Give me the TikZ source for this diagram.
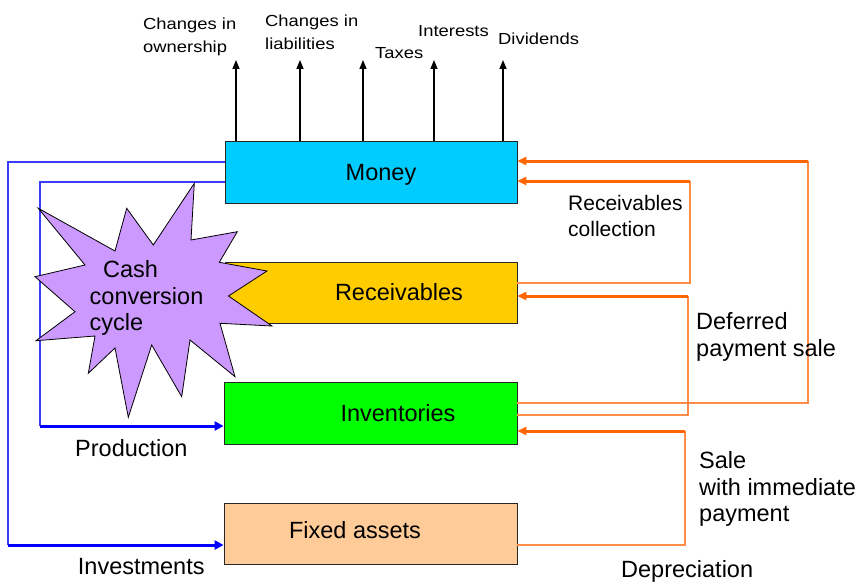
\documentclass[tikz,border=0pt]{standalone}
\usepackage{fontspec}
\setmainfont{Liberation Sans}
\newfontfamily\widesans[FakeStretch=1.15]{Liberation Sans}
\usetikzlibrary{arrows.meta}
\definecolor{moneyc}{RGB}{0,204,255}
\definecolor{recc}{RGB}{255,204,0}
\definecolor{invc}{RGB}{0,255,0}
\definecolor{fixc}{RGB}{255,204,153}
\definecolor{starc}{RGB}{204,153,255}
\definecolor{bluec}{RGB}{0,0,255}
\definecolor{bluethin}{RGB}{60,60,255}
\definecolor{orc}{RGB}{255,102,0}
\definecolor{orthin}{RGB}{255,140,70}
\begin{document}
\begin{tikzpicture}[x=1pt,y=-1pt,
  box/.style={draw=black!85,line width=0.8pt,minimum width=292pt,inner sep=0pt,
     text height=16.8pt,text depth=0pt,font=\fontsize{23.5pt}{26pt}\selectfont},
  lbl/.style={anchor=base west,inner sep=0pt,font=\fontsize{23.5pt}{26pt}\selectfont},
  toplbl/.style={anchor=base west,inner sep=0pt,font=\widesans\fontsize{16pt}{20pt}\selectfont},
  uparrow/.style={line width=1.5pt,-{Triangle[length=9pt,width=7pt]}},
  bthin/.style={draw=bluethin,line width=1.3pt},
  bthick/.style={draw=bluec,line width=3pt,-{Triangle[length=9pt,width=9pt]}},
  othin/.style={draw=orthin,line width=1.2pt},
  othick/.style={draw=orc,line width=3pt,-{Triangle[length=9pt,width=8pt]}}]
\useasboundingbox (0,0) rectangle (858,583);

% boxes
\node[box,fill=moneyc,minimum height=62pt] (money) at (371,172) {\hspace*{20pt}Money};
\node[box,fill=recc,minimum height=61pt] (rec) at (371,292.5) {\hspace*{56pt}Receivables};
\node[box,fill=invc,minimum height=62pt,minimum width=293pt] (inv) at (370.5,413) {\hspace*{55pt}Inventories};
\node[box,fill=fixc,minimum height=61pt,minimum width=293pt] (fix) at (370.5,533.5) {\raisebox{3pt}{Fixed assets}\hspace*{31pt}};

% outgoing arrows from money
\coordinate (t1) at (236,60);
\coordinate (t2) at (300,60);
\coordinate (t3) at (363,60);
\coordinate (t4) at (434,60);
\coordinate (t5) at (503,60);
\foreach \t in {t1,t2,t3,t4,t5} \draw[uparrow] (money.north -| \t) -- (\t);

% top labels
\node[toplbl] (l1a) at (143,30) {Changes in};
\node[toplbl] (l1b) at (143,52.7) {ownership};
\node[toplbl] (l2a) at (265,26.7) {Changes in};
\node[toplbl] (l2b) at (265,50) {liabilities};
\node[toplbl] (l3) at (375,58.3) {Taxes};
\node[toplbl] (l4) at (418,36.7) {Interests};
\node[toplbl] (l5) at (498,45) {Dividends};

% blue connectors (left)
\coordinate (bo1) at (8,162);
\coordinate (bo2) at (8,545);
\coordinate (bi1) at (40,182);
\coordinate (bi2) at (40,426);
\draw[bthin] (money.west |- bo1) -- (bo1) -- (bo2);
\draw[bthick] (bo2) -- (fix.west |- bo2);
\draw[bthin] (money.west |- bi1) -- (bi1) -- (bi2);
\draw[bthick] (bi2) -- (inv.west |- bi2);

% orange connectors (right)
\coordinate (o1t) at (808,161);
\coordinate (o1b) at (808,403);
\coordinate (o2t) at (690,181);
\coordinate (o2b) at (690,283);
\coordinate (o3t) at (688,296);
\coordinate (o3b) at (688,415);
\coordinate (o4t) at (685,431);
\coordinate (o4b) at (685,545);
\draw[othin] (inv.east |- o1b) -- (o1b) -- (o1t);
\draw[othick] (o1t) -- (money.east |- o1t);
\draw[othin] (rec.east |- o2b) -- (o2b) -- (o2t);
\draw[othick] (o2t) -- (money.east |- o2t);
\draw[othin] (inv.east |- o3b) -- (o3b) -- (o3t);
\draw[othick] (o3t) -- (rec.east |- o3t);
\draw[othin] (fix.east |- o4b) -- (o4b) -- (o4t);
\draw[othick] (o4t) -- (inv.east |- o4t);

% star
\draw[fill=starc,draw=black,line width=0.8pt]
 (38.3,208.3) -- (115,251) -- (126.7,208.3) -- (153.3,245) -- (194.3,183.3) -- (191,240)
 -- (237.3,231.7) -- (219.3,262.3) -- (267,271) -- (228.5,296) -- (272,326) -- (220,323.3)
 -- (235,376.7) -- (190,340) -- (181.7,396.7) -- (151.7,345) -- (128.3,417.3) -- (115,348)
 -- (88.3,373.3) -- (95,336) -- (36,340.7) -- (75,311.7) -- (35,276.7) -- (85,265) -- cycle;
\node[lbl] (s1) at (103,277.3) {Cash};
\node[lbl] (s2) at (89.5,304) {conversion};
\node[lbl] (s3) at (89.5,330.7) {cycle};

% side labels
\node[lbl] (prod) at (75,456) {Production};
\node[lbl] (invest) at (77.7,574) {Investments};
\node[lbl,font=\fontsize{21pt}{24pt}\selectfont] (rc1) at (568,210.7) {Receivables};
\node[lbl,font=\fontsize{21pt}{24pt}\selectfont] (rc2) at (568,236) {collection};
\node[lbl] (dp1) at (696,329) {Deferred};
\node[lbl] (dp2) at (696,356) {payment sale};
\node[lbl] (sw1) at (699,468.3) {Sale};
\node[lbl] (sw2) at (699,495) {with immediate};
\node[lbl] (sw3) at (699,521.7) {payment};
\node[lbl] (dep) at (621,577) {Depreciation};
\end{tikzpicture}
\end{document}
